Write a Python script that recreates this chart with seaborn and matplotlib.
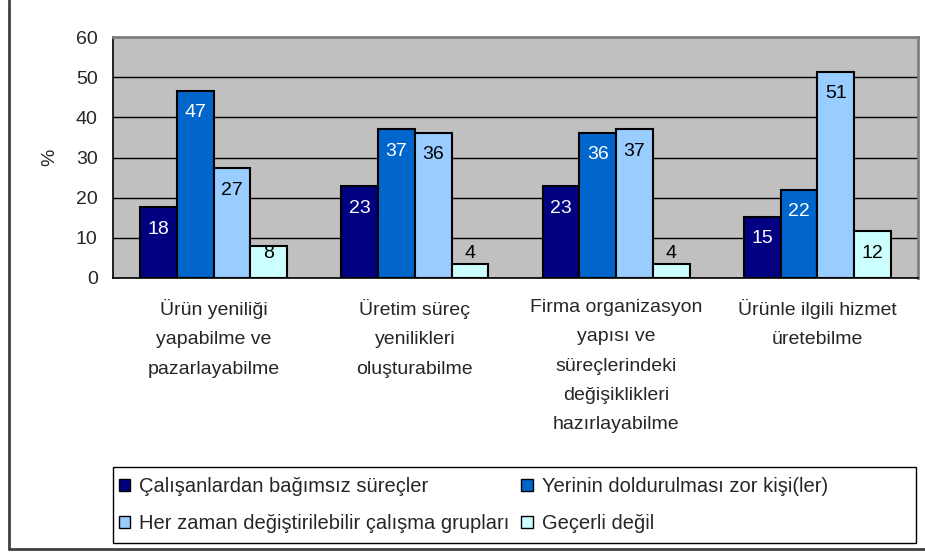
import matplotlib
matplotlib.use("Agg")
import numpy as np
import pandas as pd
import matplotlib.pyplot as plt
import seaborn as sns
from matplotlib.patches import Patch, Rectangle
from matplotlib.lines import Line2D

categories = [
    "Ürün yeniliği\nyapabilme ve\npazarlayabilme",
    "Üretim süreç\nyenilikleri\noluşturabilme",
    "Firma organizasyon\nyapısı ve\nsüreçlerindeki\ndeğişiklikleri\nhazırlayabilme",
    "Ürünle ilgili hizmet\nüretebilme",
]
series_names = [
    "Çalışanlardan bağımsız süreçler",
    "Yerinin doldurulması zor kişi(ler)",
    "Her zaman değiştirilebilir çalışma grupları",
    "Geçerli değil",
]
calisanlardan = [17.6, 22.8, 22.8, 15.3]
yerinin = [46.6, 37.0, 36.2, 22.0]
her_zaman = [27.4, 36.2, 37.0, 51.4]
gecerli = [8.0, 3.5, 3.5, 11.6]
y_ticks = [0, 10, 20, 30, 40, 50, 60]

colors = ["#000080", "#0066CC", "#99CCFF", "#CCFFFF"]
label_colors = ["white", "white", "black", "black"]

rows = []
for name, vals in zip(series_names, [calisanlardan, yerinin, her_zaman, gecerli]):
    for cat, v in zip(categories, vals):
        rows.append({"kategori": cat, "seri": name, "deger": v})
df = pd.DataFrame(rows)

sns.set_style("white")
plt.rcParams["font.family"] = ["Liberation Sans", "DejaVu Sans"]
plt.rcParams["font.size"] = 14

fig = plt.figure(figsize=(9.25, 5.54), dpi=100)
ax = fig.add_axes([113 / 925, 1 - 278 / 554, 805 / 925, 241 / 554])
ax.set_facecolor("#C0C0C0")

sns.barplot(data=df, x="kategori", y="deger", hue="seri", order=categories,
            hue_order=series_names, palette=colors, saturation=1, width=0.73,
            edgecolor="black", linewidth=1.5, ax=ax, legend=False, zorder=3)

ax.set_ylim(0, 60)
ax.set_xlim(-0.5, 3.5)
ax.set_yticks(y_ticks)
ax.yaxis.grid(True, color="black", linewidth=1)
ax.set_axisbelow(True)
ax.tick_params(axis="y", length=5, width=1, pad=6, labelsize=14, color="black")
ax.tick_params(axis="x", which="major", length=0, pad=15, labelsize=14)
ax.set_xticks([0.5, 1.5, 2.5, -0.5, 3.5], minor=True)
ax.tick_params(axis="x", which="minor", length=6, width=1, color="black", direction="out")
ax.set_xticks(range(len(categories)))
ax.set_xticklabels(categories, linespacing=1.95, va="top")
ax.set_xlabel("")
ax.set_ylabel("%", fontsize=14)
ax.yaxis.set_label_coords(-0.0686, 0.5)

for side in ["left", "bottom"]:
    ax.spines[side].set_color("black")
    ax.spines[side].set_linewidth(1.2)
for side in ["top", "right"]:
    ax.spines[side].set_color("#808080")
    ax.spines[side].set_linewidth(2)

for i, cont in enumerate(ax.containers):
    for bar in cont:
        h = bar.get_height()
        ypos = max(h - 5.5, 6.2)
        ax.text(bar.get_x() + bar.get_width() / 2, ypos, f"{h:.0f}",
                ha="center", va="center", color=label_colors[i], fontsize=14, zorder=4)

# legend box
fig.patches.append(Rectangle((113 / 925, 1 - 543 / 554), 803 / 925, 76 / 554,
                             transform=fig.transFigure, facecolor="white",
                             edgecolor="black", linewidth=1, zorder=1))
handles = [Patch(facecolor=c, edgecolor="black", linewidth=1) for c in colors]
order = [0, 2, 1, 3]
fig.legend([handles[k] for k in order], [series_names[k] for k in order],
           loc="upper left", bbox_to_anchor=(119 / 925, 1 - 477 / 554), ncol=2,
           frameon=False, fontsize=14.5, borderaxespad=0, borderpad=0,
           handlelength=0.55, handleheight=0.55,
           handletextpad=0.45, columnspacing=0.6, labelspacing=0.9)

# outer chart border
fig.lines.append(Line2D([9 / 925, 9 / 925], [1 - 549 / 554, 1], transform=fig.transFigure,
                        color="#404040", linewidth=2))
fig.lines.append(Line2D([9 / 925, 1], [1 - 549 / 554, 1 - 549 / 554], transform=fig.transFigure,
                        color="#404040", linewidth=2))

fig.savefig("out.png", dpi=100)
